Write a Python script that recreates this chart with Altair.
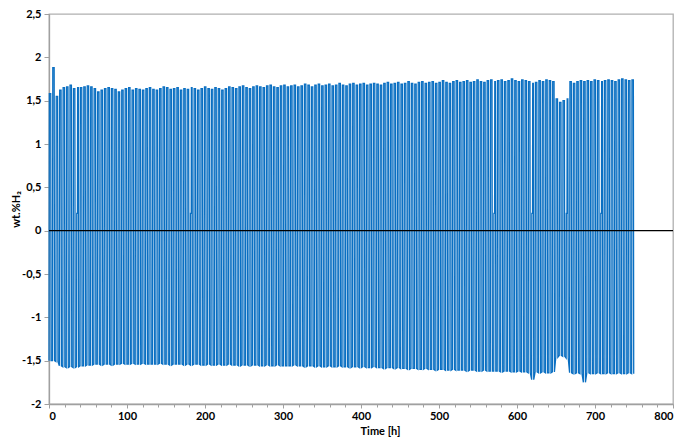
import altair as alt
import pandas as pd

cycle_hours = 4.42
peaks = [
    1.58, 1.88, 1.55, 1.62, 1.65, 1.66, 1.68, 1.64, 1.65, 1.65,
    1.66, 1.67, 1.66, 1.64, 1.60, 1.62, 1.64, 1.65, 1.64, 1.63,
    1.60, 1.62, 1.64, 1.65, 1.62, 1.64, 1.63, 1.62, 1.64, 1.65,
    1.63, 1.62, 1.64, 1.66, 1.65, 1.63, 1.64, 1.65, 1.62, 1.64,
    1.63, 1.65, 1.64, 1.62, 1.64, 1.66, 1.64, 1.63, 1.65, 1.64,
    1.62, 1.64, 1.66, 1.65, 1.64, 1.66, 1.67, 1.65, 1.64, 1.66,
    1.67, 1.66, 1.65, 1.67, 1.68, 1.66, 1.65, 1.67, 1.68, 1.66,
    1.67, 1.68, 1.66, 1.67, 1.69, 1.68, 1.66, 1.68, 1.69, 1.67,
    1.68, 1.69, 1.67, 1.68, 1.70, 1.68, 1.67, 1.69, 1.70, 1.68,
    1.69, 1.70, 1.68, 1.69, 1.70, 1.69, 1.68, 1.70, 1.71, 1.69,
    1.70, 1.71, 1.69, 1.70, 1.72, 1.70, 1.69, 1.71, 1.72, 1.70,
    1.71, 1.72, 1.70, 1.71, 1.73, 1.71, 1.70, 1.72, 1.73, 1.71,
    1.72, 1.73, 1.71, 1.72, 1.74, 1.72, 1.71, 1.73, 1.74, 1.72,
    1.73, 1.74, 1.72, 1.73, 1.75, 1.73, 1.72, 1.74, 1.73, 1.72,
    1.70, 1.71, 1.73, 1.72, 1.74, 1.73, 1.72, 1.52, 1.48, 1.50,
    1.52, 1.72, 1.70, 1.72, 1.73, 1.72, 1.73, 1.72, 1.74, 1.73,
    1.72, 1.73, 1.74, 1.73, 1.72, 1.74, 1.75, 1.74, 1.73, 1.74,
]
troughs = [
    -1.50, -1.50, -1.51, -1.56, -1.57, -1.58, -1.57, -1.58, -1.57, -1.56,
    -1.56, -1.55, -1.55, -1.54, -1.54, -1.55, -1.54, -1.54, -1.55, -1.54,
    -1.54, -1.53, -1.54, -1.54, -1.53, -1.54, -1.54, -1.53, -1.54, -1.54,
    -1.54, -1.54, -1.53, -1.54, -1.54, -1.55, -1.54, -1.54, -1.54, -1.55,
    -1.54, -1.55, -1.54, -1.54, -1.55, -1.55, -1.54, -1.55, -1.55, -1.54,
    -1.55, -1.55, -1.54, -1.55, -1.55, -1.56, -1.55, -1.55, -1.56, -1.55,
    -1.55, -1.56, -1.56, -1.55, -1.56, -1.56, -1.55, -1.56, -1.56, -1.56,
    -1.56, -1.55, -1.56, -1.56, -1.57, -1.56, -1.56, -1.57, -1.56, -1.57,
    -1.57, -1.56, -1.57, -1.57, -1.56, -1.57, -1.57, -1.58, -1.57, -1.57,
    -1.58, -1.57, -1.58, -1.58, -1.57, -1.58, -1.58, -1.59, -1.58, -1.58,
    -1.59, -1.58, -1.59, -1.59, -1.60, -1.59, -1.59, -1.60, -1.60, -1.59,
    -1.60, -1.60, -1.61, -1.60, -1.60, -1.61, -1.61, -1.60, -1.61, -1.61,
    -1.61, -1.62, -1.61, -1.61, -1.62, -1.62, -1.61, -1.62, -1.62, -1.62,
    -1.62, -1.63, -1.62, -1.62, -1.63, -1.63, -1.62, -1.63, -1.63, -1.64,
    -1.72, -1.63, -1.64, -1.63, -1.64, -1.64, -1.63, -1.46, -1.44, -1.45,
    -1.47, -1.64, -1.65, -1.64, -1.65, -1.75, -1.64, -1.65, -1.65, -1.64,
    -1.65, -1.65, -1.64, -1.65, -1.65, -1.64, -1.65, -1.65, -1.64, -1.65,
]
hold_cycles = [8, 41, 129, 140, 150, 160]
hold_level = 0.2

x_ticks = list(range(0, 801, 100))
x_minor = list(range(0, 801, 20))
y_ticks = [-2, -1.5, -1, -0.5, 0, 0.5, 1, 1.5, 2, 2.5]

rows = []
P = cycle_hours
for i, (p, q) in enumerate(zip(peaks, troughs)):
    t0 = i * P
    rows.append((t0, q))
    if i in hold_cycles:
        rows.append((t0 + 0.05 * P, hold_level))
        rows.append((t0 + 0.25 * P, hold_level))
        rows.append((t0 + 0.3 * P, p))
    else:
        rows.append((t0 + 0.1 * P, p))
    rows.append((t0 + 0.5 * P, p))
    rows.append((t0 + 0.6 * P, q))
df = pd.DataFrame(rows, columns=["t", "v"])
df["k"] = range(len(df))

FONT = "Lato"
label_expr = "(datum.value < 0 ? '-' : '') + replace(format(abs(datum.value), '~g'), '.', ',')"

xscale = alt.Scale(domain=[0, 800], nice=False)
yscale = alt.Scale(domain=[-2, 2.5], nice=False)

PLOT_H = 390

y_axis = alt.Axis(
    values=y_ticks, labelExpr=label_expr, title="wt.%H₂",
    labelFontWeight="bold", labelFontSize=11, titleFontSize=11,
    titleFontWeight="bold", tickSize=5, labelPadding=3, grid=False,
    titleX=-33, titleY=PLOT_H / 2, titleAngle=-90, titleAlign="center",
    titleBaseline="middle")

line = alt.Chart(df).mark_line(color="#0a6fc2", strokeWidth=1.3).encode(
    x=alt.X("t:Q", scale=xscale, axis=alt.Axis(
        values=x_ticks, title="Time [h]", format="d", labelFontWeight="bold",
        labelFontSize=11, titleFontSize=11, titleFontWeight="bold",
        tickSize=4, labelPadding=2, titleY=30, titleX=331,
        titleAlign="center", titleBaseline="alphabetic",
        grid=False, orient="bottom")),
    y=alt.Y("v:Q", scale=yscale, axis=y_axis),
    order="k:Q",
)

minor_df = pd.DataFrame({"t": x_minor, "v": [-2] * len(x_minor)})
minor = alt.Chart(minor_df).mark_point(opacity=0).encode(
    x=alt.X("t:Q", scale=xscale, axis=alt.Axis(
        values=x_minor, labels=False, title=None, domain=False,
        tickSize=3, grid=False, orient="bottom")),
    y=alt.Y("v:Q", scale=yscale, axis=y_axis),
)

zero = alt.Chart(pd.DataFrame({"v": [0]})).mark_rule(
    color="black", strokeWidth=1.2).encode(
    y=alt.Y("v:Q", scale=yscale, axis=y_axis))

chart = alt.layer(line, zero, minor).resolve_axis(x="independent").properties(
    width=624, height=PLOT_H,
    autosize=alt.AutoSizeParams(type="none"),
    padding={"left": 41, "top": 6, "right": 4, "bottom": 33},
).configure_view(stroke="#b0b0b0", strokeWidth=1.3).configure_axis(
    domainColor="#a0a0a0", tickColor="#a0a0a0", domainWidth=1.3,
    labelFont=FONT, titleFont=FONT, labelColor="#000", titleColor="#000",
)

chart.save("out.html", embed_options={"renderer": "svg", "actions": False})
